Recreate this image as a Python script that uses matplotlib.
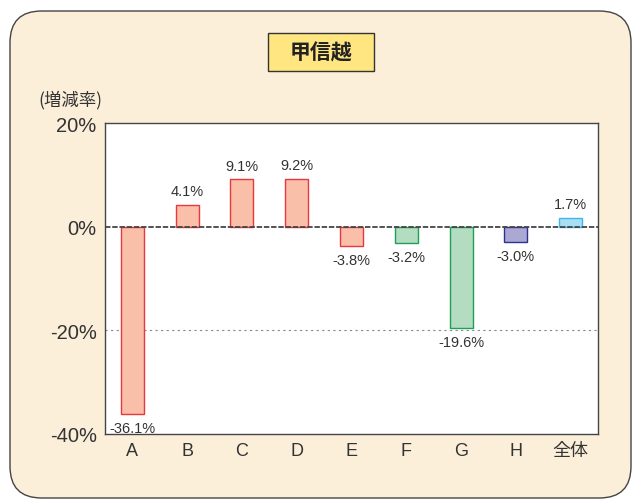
import matplotlib.pyplot as plt
from matplotlib.patches import FancyBboxPatch, Rectangle

plt.rcParams['font.family'] = ['Liberation Sans', 'Noto Sans CJK JP']

regions = ['A', 'B', 'C', 'D', 'E', 'F', 'G', 'H', '全体']
rates = [-36.1, 4.1, 9.1, 9.2, -3.8, -3.2, -19.6, -3.0, 1.7]
faces = ['#f9bfa8'] * 5 + ['#b3dcc0', '#b3dcc0', '#aba9d4', '#a9def5']
edges = ['#e8383d'] * 5 + ['#1ba157', '#1ba157', '#2e3192', '#3fb8e8']

W, H = 633, 502
fig = plt.figure(figsize=(W / 100, H / 100), dpi=100)
fig.patch.set_facecolor('white')

# rounded cream panel behind everything
panel = FancyBboxPatch((10 / W, 3 / H), 621 / W, 487 / H,
                       boxstyle='round,pad=0,rounding_size=0.05',
                       transform=fig.transFigure, facecolor='#fcefda',
                       edgecolor='#444444', linewidth=1.0, mutation_aspect=W / H,
                       zorder=-10)
fig.patches.append(panel)

# title plate
plate = Rectangle((268 / W, 1 - 72 / H), 106 / W, 38 / H, transform=fig.transFigure,
                  facecolor='#ffe680', edgecolor='#333333', linewidth=1.0, zorder=-5)
fig.patches.append(plate)
fig.text(321 / W, 1 - 53 / H, '甲信越', ha='center', va='center', fontsize=15,
         fontweight='bold', color='#222222', family='Noto Sans CJK JP')
fig.text(38 / W, 1 - 100 / H, '(増減率)', ha='left', va='center', fontsize=12.5,
         color='#333333', family='Noto Sans CJK JP')

ax = fig.add_axes([105 / W, 1 - 435 / H, 493 / W, 311 / H])
ax.set_facecolor('white')
x = range(len(regions))
ax.bar(x, rates, width=0.42, color=faces, edgecolor=edges, linewidth=1.0, zorder=3)

for i, v in enumerate(rates):
    if v >= 0:
        ax.annotate(f'{v:.1f}%', (i, v), xytext=(0, 5), textcoords='offset points',
                    ha='center', va='bottom', fontsize=10.5, color='#333333')
    else:
        ax.annotate(f'{v:.1f}%', (i, v), xytext=(0, -5), textcoords='offset points',
                    ha='center', va='top', fontsize=10.5, color='#333333')

ax.set_xlim(-0.5, len(regions) - 0.5)
ax.set_ylim(-40, 20)
ax.set_yticks([20, 0, -20, -40])
ax.set_yticklabels(['20%', '0%', '-20%', '-40%'], fontsize=14.5, color='#333333')
ax.set_xticks(list(x))
ax.set_xticklabels(regions, fontsize=13, color='#333333')
ax.tick_params(axis='x', length=0, pad=6)
ax.tick_params(axis='y', length=0, pad=6)

ax.axhline(0, color='#444444', linewidth=1.3, linestyle=(0, (3, 1)), zorder=4)
ax.axhline(-20, color='#888888', linewidth=0.8, linestyle=(0, (2, 3)), zorder=1)
for s in ax.spines.values():
    s.set_color('#444444')
    s.set_linewidth(1.0)

fig.savefig('out.png', dpi=100)
